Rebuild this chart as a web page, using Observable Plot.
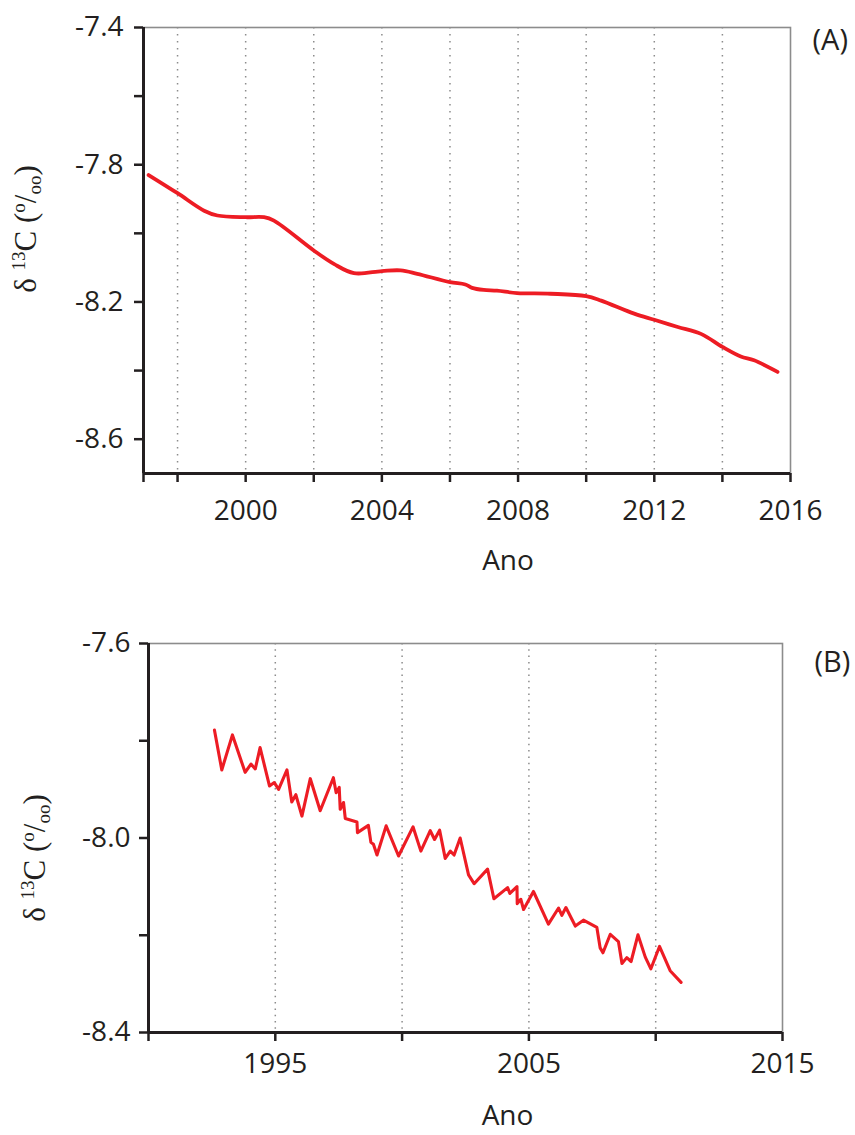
<!DOCTYPE html>
<html>
<head>
<meta charset="utf-8">
<script src="https://cdn.jsdelivr.net/npm/d3@7"></script>
<script src="https://cdn.jsdelivr.net/npm/@observablehq/plot@0.6"></script>
<style>
  body { margin: 0; background: #fff; }
  #chart { width: 855px; }
  #chart svg { display: block; }
</style>
</head>
<body>
<div id="chart"></div>
<script>
// Panel A: smoothed δ13C record
const yearsA = [1997.15, 1998.0, 1998.78, 1999.17, 2000.0, 2000.54, 2000.83, 2002.0, 2002.59, 2003.18,
  2004.0, 2004.55, 2005.04, 2006.0, 2006.45, 2006.65, 2006.99, 2007.38, 2007.97, 2008.95,
  2010.0, 2010.44, 2011.41, 2012.0, 2012.69, 2013.37, 2014.0, 2014.54, 2014.93, 2015.62];
const valuesA = [-7.83, -7.883, -7.934, -7.948, -7.953, -7.953, -7.963, -8.05, -8.089, -8.116,
  -8.110, -8.108, -8.118, -8.142, -8.149, -8.159, -8.165, -8.167, -8.174, -8.176,
  -8.183, -8.196, -8.234, -8.252, -8.273, -8.293, -8.331, -8.359, -8.370, -8.404];

// Panel B: raw δ13C record
const yearsB = [1992.60, 1992.89, 1993.31, 1993.81, 1994.04, 1994.21, 1994.40, 1994.77, 1994.96, 1995.13,
  1995.46, 1995.65, 1995.81, 1996.05, 1996.38, 1996.77, 1997.29, 1997.40, 1997.52, 1997.56,
  1997.69, 1997.76, 1998.22, 1998.24, 1998.67, 1998.77, 1998.87, 1999.01, 1999.37, 1999.86,
  2000.43, 2000.74, 2001.11, 2001.28, 2001.48, 2001.70, 2001.90, 2002.05, 2002.29, 2002.62,
  2002.84, 2003.37, 2003.62, 2004.16, 2004.25, 2004.53, 2004.54, 2004.68, 2004.79, 2005.18,
  2005.77, 2006.17, 2006.30, 2006.46, 2006.83, 2007.15, 2007.68, 2007.81, 2007.92, 2008.21,
  2008.53, 2008.67, 2008.86, 2009.03, 2009.30, 2009.59, 2009.81, 2010.15, 2010.57, 2011.00];
const valuesB = [-7.778, -7.860, -7.788, -7.865, -7.848, -7.858, -7.814, -7.893, -7.886, -7.900,
  -7.860, -7.926, -7.911, -7.955, -7.878, -7.944, -7.876, -7.907, -7.896, -7.941,
  -7.927, -7.960, -7.967, -7.989, -7.974, -8.009, -8.013, -8.035, -7.975, -8.037,
  -7.977, -8.027, -7.985, -8.003, -7.984, -8.042, -8.027, -8.035, -8.000, -8.076,
  -8.094, -8.064, -8.125, -8.102, -8.114, -8.100, -8.135, -8.126, -8.147, -8.110,
  -8.177, -8.144, -8.159, -8.143, -8.181, -8.169, -8.184, -8.226, -8.236, -8.198,
  -8.213, -8.258, -8.246, -8.254, -8.199, -8.245, -8.269, -8.223, -8.273, -8.297];

// Axis ticks, labelled ticks and dotted grid years
const xTicksA = [1997, 1998, 2000, 2002, 2004, 2006, 2008, 2010, 2012, 2014, 2016];
const xLabelsA = [2000, 2004, 2008, 2012, 2016];
const gridA = [1998, 2000, 2002, 2004, 2006, 2008, 2010, 2012, 2014];
const yTicksA = [-8.6, -8.4, -8.2, -8.0, -7.8, -7.6, -7.4];
const yLabelsA = [-8.6, -8.2, -7.8, -7.4];

const xTicksB = [1990, 1995, 2000, 2005, 2010, 2015];
const xLabelsB = [1995, 2005, 2015];
const gridB = [1995, 2000, 2005, 2010];
const yTicksB = [-8.4, -8.2, -8.0, -7.8, -7.6];
const yLabelsB = [-8.4, -8.0, -7.6];

const RED = "#ed1c24";
const INK = "#231f20";
const BORDER = "#8c8c8c";
const FONT = 28;

const near = (arr, v) => arr.some(a => Math.abs(a - v) < 1e-9);

function panel(cfg) {
  const data = cfg.years.map((x, i) => ({x, y: cfg.values[i]}));
  const svg = Plot.plot({
    width: 855,
    height: cfg.height,
    marginLeft: cfg.marginLeft,
    marginRight: cfg.marginRight,
    marginTop: cfg.marginTop,
    marginBottom: cfg.marginBottom,
    style: {fontFamily: "'Open Sans', sans-serif", fontSize: FONT + "px", color: INK, background: "#fff", overflow: "visible"},
    x: {domain: cfg.xDomain},
    y: {domain: cfg.yDomain},
    marks: [
      Plot.ruleX(cfg.grid, {stroke: BORDER, strokeWidth: 1.5, strokeDasharray: cfg.dash}),
      Plot.frame({stroke: BORDER, strokeWidth: 1.6}),
      Plot.ruleX([cfg.xDomain[0]], {stroke: INK, strokeWidth: 3}),
      Plot.ruleY([cfg.yDomain[0]], {stroke: INK, strokeWidth: 3}),
      Plot.axisX({ticks: cfg.xTicks, tickFormat: d => near(cfg.xLabels, d) ? String(d) : "",
        tickSize: 9, tickPadding: cfg.xPad, stroke: INK, strokeWidth: 2.5, fontSize: FONT, label: null}),
      Plot.axisY({ticks: cfg.yTicks, tickFormat: d => near(cfg.yLabels, d) ? d.toFixed(1) : "",
        tickSize: 9, tickPadding: cfg.yPad, stroke: INK, strokeWidth: 2.5, fontSize: FONT, label: null}),
      Plot.line(data, {x: "x", y: "y", stroke: RED, strokeWidth: cfg.lineWidth, curve: cfg.curve}),
      Plot.text([cfg.tag], {text: d => d, frameAnchor: "top-right", textAnchor: "start", lineAnchor: "middle",
        dx: cfg.tagDx, dy: cfg.tagDy, fontSize: 29, fill: INK}),
      Plot.text(["Ano"], {text: d => d, frameAnchor: "bottom", lineAnchor: "middle", dx: cfg.anoDx, dy: cfg.anoDy,
        fontSize: FONT, fill: INK})
    ]
  });

  // δ13C (‰) axis title with super- and subscripts
  const t = d3.select(svg).append("text")
    .attr("transform", `translate(${cfg.labelX},${cfg.labelY}) rotate(-90)`)
    .attr("text-anchor", "middle")
    .attr("font-family", "'Liberation Serif', 'DejaVu Serif', serif")
    .attr("font-size", 31)
    .attr("fill", INK);
  t.append("tspan").text("δ ");
  t.append("tspan").attr("font-size", 19).attr("dy", -11).text("13");
  t.append("tspan").attr("dy", 11).text("C (");
  t.append("tspan").attr("font-size", 19).attr("dy", -11).text("o");
  t.append("tspan").attr("dy", 11).text("/");
  t.append("tspan").attr("font-size", 19).attr("dy", 5).text("oo");
  t.append("tspan").attr("dy", -5).text(")");

  document.getElementById("chart").appendChild(svg);
}

panel({
  years: yearsA, values: valuesA,
  height: 600, marginLeft: 143, marginRight: 65, marginTop: 27, marginBottom: 127,
  xDomain: [1997, 2016], yDomain: [-8.7, -7.4],
  xTicks: xTicksA, xLabels: xLabelsA, yTicks: yTicksA, yLabels: yLabelsA,
  grid: gridA, dash: "1.5,5.5", xPad: 18, yPad: 11,
  lineWidth: 3.8, curve: "catmull-rom",
  tag: "(A)", tagDx: 22, tagDy: 13, anoDx: 41, anoDy: 88,
  labelX: 36, labelY: 229
});

panel({
  years: yearsB, values: valuesB,
  height: 535, marginLeft: 148, marginRight: 73, marginTop: 43, marginBottom: 103,
  xDomain: [1990, 2015], yDomain: [-8.4, -7.6],
  xTicks: xTicksB, xLabels: xLabelsB, yTicks: yTicksB, yLabels: yLabelsB,
  grid: gridB, dash: "1.5,4.8", xPad: 12, yPad: 9,
  lineWidth: 3.1, curve: "linear",
  tag: "(B)", tagDx: 32, tagDy: 19, anoDx: 42, anoDy: 84,
  labelX: 45, labelY: 258
});
</script>
</body>
</html>
